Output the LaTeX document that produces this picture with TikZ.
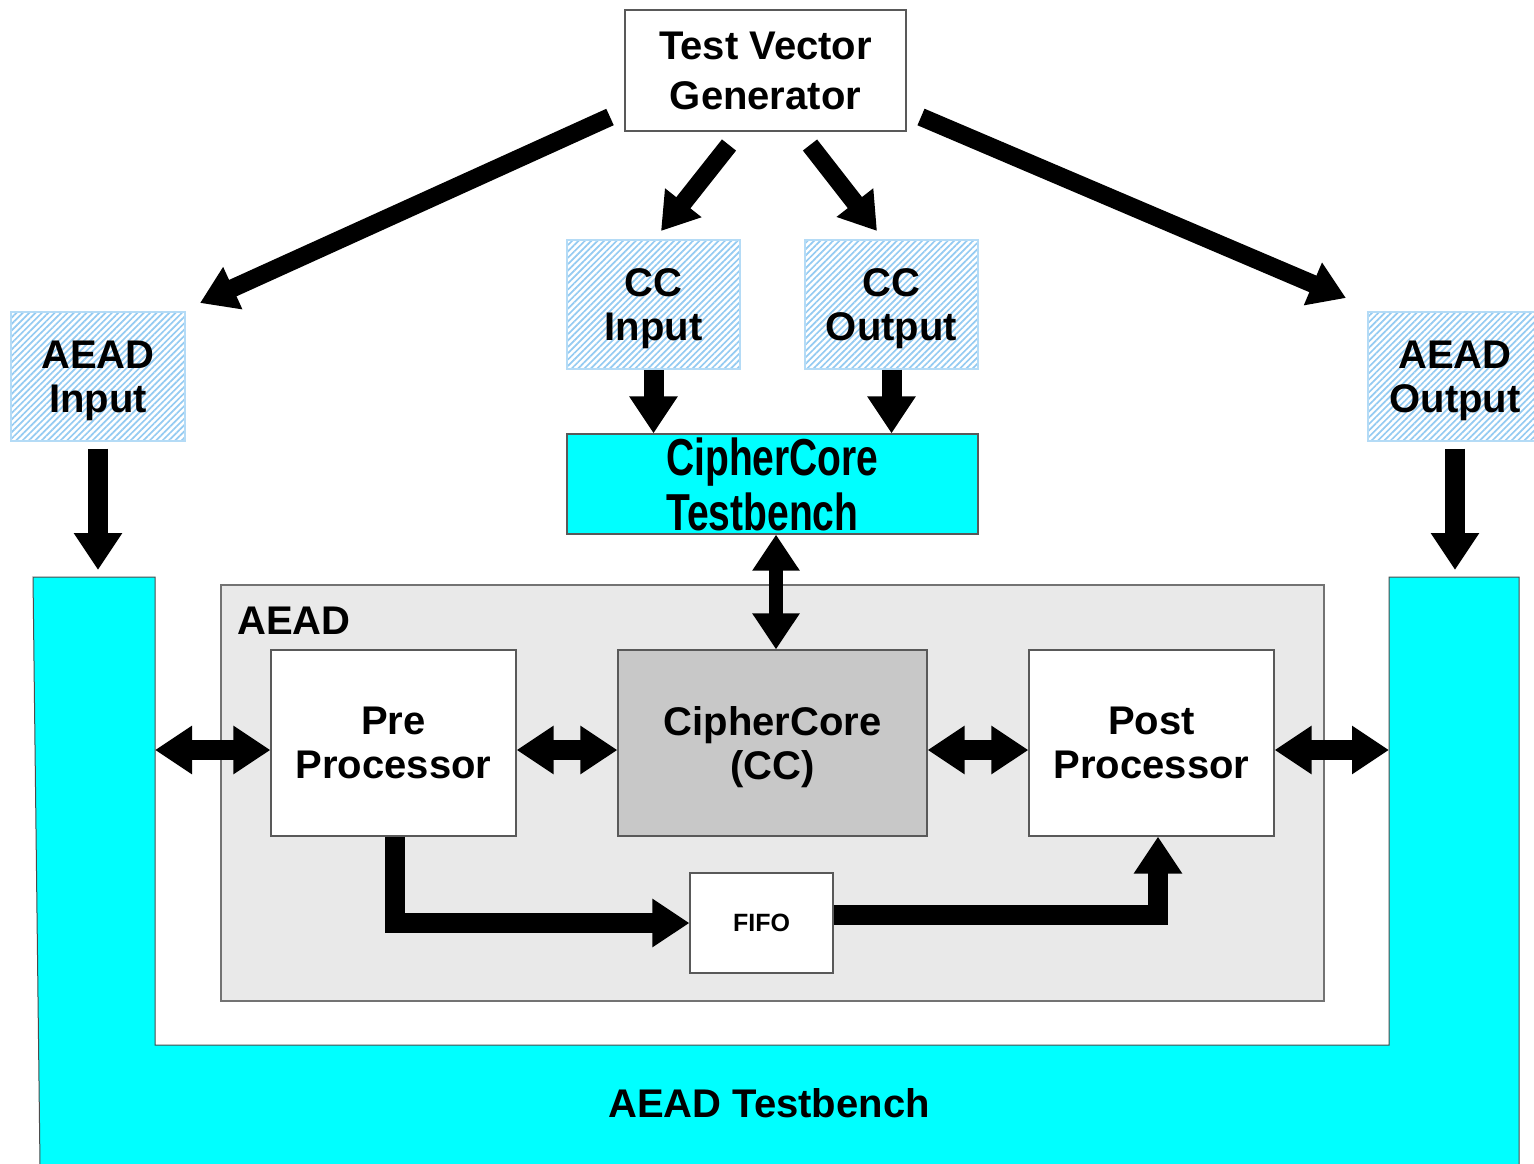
\documentclass[tikz,border=0pt]{standalone}
\usepackage{fontspec}
\setmainfont{Liberation Sans}
\newfontfamily\condfont[FakeStretch=0.75]{Liberation Sans}
\usetikzlibrary{arrows.meta,patterns.meta,calc}
\definecolor{hatch}{HTML}{94CBF2}
\definecolor{tbcyan}{HTML}{00FFFF}
\definecolor{aeadgray}{HTML}{E9E9E9}
\definecolor{ccgray}{HTML}{C8C8C8}
\begin{document}
\begin{tikzpicture}[x=1pt,y=-1pt,
  box/.style={draw=black!65,line width=1.2pt,inner sep=0pt,align=center,text depth=0pt,
    font=\bfseries\fontsize{40}{44}\selectfont},
  hbox/.style={box,draw=hatch!70,
    pattern={Lines[angle=45,distance=4.5pt,line width=1.7pt]},pattern color=hatch},
  fat/.style={line width=20pt,-{Triangle[length=37pt,width=46pt]}},
  diag/.style={line width=18pt,-{Triangle[length=36pt,width=44pt]}},
  dbl/.style={line width=20pt,{Triangle[length=37pt,width=46pt]}-{Triangle[length=37pt,width=46pt]}},
  vdbl/.style={line width=14pt,{Triangle[length=36pt,width=45pt]}-{Triangle[length=36pt,width=45pt]}}]
\useasboundingbox (0,0) rectangle (1534,1163);
\fill[white] (0,0) rectangle (1534,1163);

% AEAD testbench (cyan U)
\draw[fill=tbcyan,draw=black!70,line width=1pt] (33,577) -- (155,577) -- (155,1045) -- (1389,1045)
  -- (1389,577) -- (1519,577) -- (1519,1165) -- (40,1165) -- cycle;
\node[font=\bfseries\fontsize{40}{44}\selectfont] (tblabel) at (769,1103) {AEAD Testbench};
\coordinate (tbL) at (155,750);
\coordinate (tbR) at (1389,750);
\coordinate (tbLtop) at (98,570);
\coordinate (tbRtop) at (1455,570);

% AEAD box
\node[draw=black!55,line width=1.2pt,fill=aeadgray,minimum width=1103pt,minimum height=416pt,inner sep=0pt] (aead) at (772.5,793) {};
\node[anchor=west,font=\bfseries\fontsize{40}{44}\selectfont,inner sep=0pt] (aeadlbl) at (237,621) {AEAD};

% top
\node[box,fill=white,minimum width=281pt,minimum height=121pt,
  font=\bfseries\fontsize{40}{50}\selectfont] (tvg) at (765.5,70.5) {Test Vector\\Generator};
\node[hbox,minimum width=173pt,minimum height=129pt] (cin) at (653.5,304.5) {CC\\Input};
\node[hbox,minimum width=173pt,minimum height=129pt] (cout) at (891.5,304.5) {CC\\Output};
\node[hbox,minimum width=174pt,minimum height=129pt] (ain) at (98,376.5) {AEAD\\Input};
\node[hbox,minimum width=174pt,minimum height=129pt] (aout) at (1455,376.5) {AEAD\\Output};
\node[box,fill=tbcyan,minimum width=411pt,minimum height=100pt,align=left,
  font=\condfont\bfseries\fontsize{52}{55}\selectfont] (cctb) at (772.5,484) {CipherCore\\Testbench};

% inner blocks
\node[box,fill=white,minimum width=245pt,minimum height=186pt] (pre) at (393.5,743) {Pre\\Processor};
\node[box,fill=ccgray,minimum width=309pt,minimum height=186pt] (cc) at (772.5,743) {CipherCore\\(CC)};
\node[box,fill=white,minimum width=245pt,minimum height=186pt] (post) at (1151.5,743) {Post\\Processor};
\node[box,fill=white,minimum width=143pt,minimum height=100pt,
  font=\bfseries\fontsize{25}{30}\selectfont] (fifo) at (761.5,923) {FIFO};

% diagonal arrows from generator
\coordinate (d1s) at (610,117); \coordinate (d1e) at (200,303);
\coordinate (d2s) at (729,145); \coordinate (d2e) at (661,231);
\coordinate (d3s) at (810,145); \coordinate (d3e) at (877,231);
\coordinate (d4s) at (921,117); \coordinate (d4e) at (1346,298);
\draw[diag] (d1s) -- (d1e);
\draw[diag] (d2s) -- (d2e);
\draw[diag] (d3s) -- (d3e);
\draw[diag] (d4s) -- (d4e);

% down arrows
\draw[fat] (cin.south) -- (cin.south |- cctb.north);
\draw[fat] (cout.south) -- (cout.south |- cctb.north);
\draw[fat] ($(ain.south)+(0,7)$) -- (tbLtop);
\draw[fat] ($(aout.south)+(0,7)$) -- (tbRtop);

% CC testbench <-> CC
\draw[vdbl] ($(cctb.south)+(3.5,0)$) -- ($(cc.north)+(3.5,0)$);

% horizontal double arrows
\draw[dbl] (tbL) -- (pre.west |- tbL);
\draw[dbl] (pre.east |- tbL) -- (cc.west |- tbL);
\draw[dbl] (cc.east |- tbL) -- (post.west |- tbL);
\draw[dbl] (post.east |- tbL) -- (tbR);

% FIFO path
\draw[fat] ($(pre.south)+(1.5,0)$) |- (fifo.west);
\draw[fat] ($(fifo.east)+(0,-8)$) -| ($(post.south)+(6.5,0)$);
\end{tikzpicture}
\end{document}
